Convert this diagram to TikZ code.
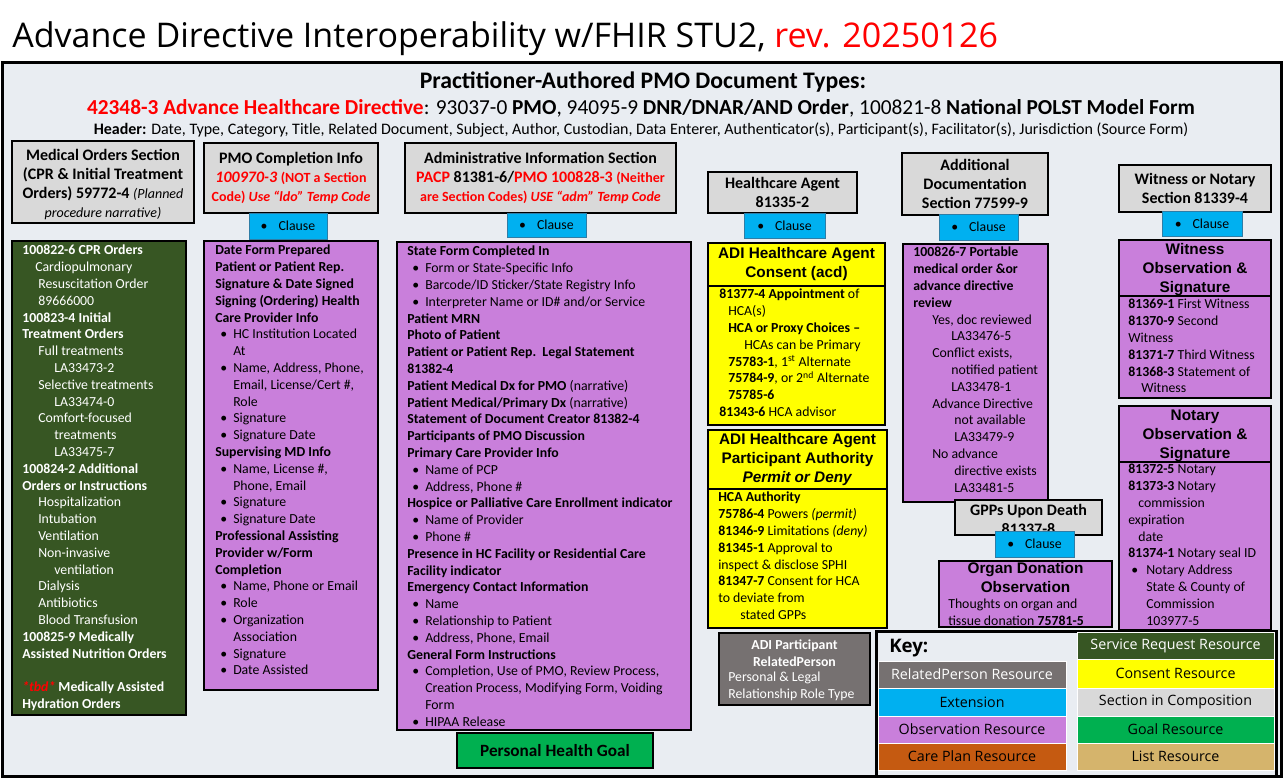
\documentclass[tikz,border=0pt]{standalone}
\usepackage{fontspec}
\setmainfont{Carlito}
\newfontfamily\arialf{Liberation Sans}
\newfontfamily\segoef{Open Sans}
\usetikzlibrary{fit}
\definecolor{panelbg}{HTML}{E9EDF2}
\definecolor{secgray}{HTML}{D9D9D9}
\definecolor{clausecyan}{HTML}{00B0F0}
\definecolor{clauseedge}{HTML}{2E7DA6}
\definecolor{obspurple}{HTML}{C97FDB}
\definecolor{srgreen}{HTML}{375623}
\definecolor{consentyellow}{HTML}{FFFF00}
\definecolor{rpgray}{HTML}{767171}
\definecolor{goalgreen}{HTML}{00B050}
\definecolor{cporange}{HTML}{C55A11}
\definecolor{listtan}{HTML}{D5B46C}
\definecolor{redtxt}{HTML}{FF0000}
\newdimen\pxu \pxu=0.75pt
\newcommand{\ind}[1]{\hspace*{#1\pxu}}
\newcommand{\bu}{\makebox[18\pxu][l]{\hspace*{5\pxu}\textbullet}}
\newcommand{\bi}{\hspace*{18\pxu}}
\newcommand{\bodyfont}{\fontsize{10.35pt}{12.6pt}\selectfont}
\newcommand{\secfont}{\fontsize{12pt}{14.25pt}\selectfont\bfseries}
\newcommand{\smsec}{\fontsize{10.5pt}{14.25pt}\selectfont}
\newcommand{\hdrfont}{\arialf\fontsize{11.5pt}{14.25pt}\selectfont\bfseries}
\newcommand{\rd}[1]{\textcolor{redtxt}{#1}}
\newcommand{\clausetxt}{\textbullet\hspace{11\pxu}Clause}
\tikzset{
  box/.style={draw=black, line width=1.5pt, inner sep=0pt},
  secbox/.style={box, fill=secgray},
  obsbox/.style={box, fill=obspurple},
  conbox/.style={box, fill=consentyellow},
  srbox/.style={box, fill=srgreen},
  rpbox/.style={box, fill=rpgray},
  goalbox/.style={box, fill=goalgreen},
  clausebox/.style={draw=clauseedge, line width=0.75pt, fill=clausecyan, inner sep=0pt},
  body/.style={inner sep=0pt, anchor=north west, align=left, font=\bodyfont},
  sectext/.style={inner sep=0pt, align=center, font=\secfont},
  hdrtext/.style={inner sep=0pt, align=center, font=\hdrfont},
  cltext/.style={inner sep=0pt, font=\bodyfont},
  keycell/.style={draw=white, line width=0.5pt, inner sep=0pt},
  keytext/.style={inner sep=0pt, font={\segoef\fontsize{10.7pt}{12pt}\selectfont}},
}
\begin{document}
\begin{tikzpicture}[x=0.75pt,y=-0.75pt]
\useasboundingbox (0,0) rectangle (1284,779);
\fill[white] (0,0) rectangle (1284,779);
\node[inner sep=0pt, anchor=base west, font={\segoef\fontsize{25.5pt}{28pt}\selectfont}] (title) at (12,47) {Advance Directive Interoperability w/FHIR STU2, \rd{rev. 20250126}};
\node[fit={(2,62)(1281,776)}, draw=black, line width=2.25pt, fill=panelbg, inner sep=0pt] (panel) {};

% header
\node[inner sep=0pt, font={\fontsize{17.8pt}{20pt}\selectfont\bfseries}] (h1) at (643,82) {Practitioner-Authored PMO Document Types:};
\node[inner sep=0pt, font={\fontsize{16pt}{18pt}\selectfont}] (h2) at (641,108) {\rd{\textbf{42348-3 Advance Healthcare Directive}}: 93037-0 \textbf{PMO}, 94095-9 \textbf{DNR/DNAR/AND Order}, 100821-8 \textbf{National POLST Model Form}};
\node[inner sep=0pt, font={\fontsize{12pt}{13pt}\selectfont}] (h3) at (641,130) {\textbf{Header:} Date, Type, Category, Title, Related Document, Subject, Author, Custodian, Data Enterer, Authenticator(s), Participant(s), Facilitator(s), Jurisdiction (Source Form)};

% column 1
\node[secbox, fit={(12,141)(194,223)}] (medsec) {};
\node[sectext] (medsec-t) at (103,184) {Medical Orders Section\\(CPR \& Initial Treatment\\Orders) 59772-4 {\mdseries\itshape\smsec(Planned}\\{\mdseries\itshape\smsec procedure narrative)}};
\node[srbox, fit={(12,241)(186,715)}] (cpr) {};
\node[body, text=white] (cpr-t) at (22,245) {\textbf{100822-6 CPR Orders}\\
\ind{13}Cardiopulmonary\\
\ind{16}Resuscitation Order\\
\ind{16}89666000\\
\textbf{100823-4 Initial}\\
\textbf{Treatment Orders}\\
\ind{16}Full treatments\\
\ind{32}LA33473-2\\
\ind{16}Selective treatments\\
\ind{32}LA33474-0\\
\ind{16}Comfort-focused\\
\ind{32}treatments\\
\ind{32}LA33475-7\\
\textbf{100824-2 Additional}\\
\textbf{Orders or Instructions}\\
\ind{16}Hospitalization\\
\ind{16}Intubation\\
\ind{16}Ventilation\\
\ind{16}Non-invasive\\
\ind{32}ventilation\\
\ind{16}Dialysis\\
\ind{16}Antibiotics\\
\ind{16}Blood Transfusion\\
\textbf{100825-9 Medically}\\
\textbf{Assisted Nutrition Orders}\\
\strut\\
\textbf{\textit{\rd{*tbd*}} Medically Assisted}\\
\textbf{Hydration Orders}};

% column 2
\node[secbox, fit={(204,143)(378,213)}] (pmo) {};
\node[sectext] (pmo-t) at (pmo.center) {PMO Completion Info\\\rd{\textit{100970-3} {\smsec(NOT a Section}}\\{\smsec\rd{Code) \textit{Use “ldo” Temp Code}}}};
\node[obsbox, fit={(204,241)(378,690)}] (pmo-obs) {};
\node[body] (pmo-obs-t) at (215,245) {\textbf{Date Form Prepared}\\
\textbf{Patient or Patient Rep.}\\
\textbf{Signature \& Date Signed}\\
\textbf{Signing (Ordering) Health}\\
\textbf{Care Provider Info}\\
\bu HC Institution Located\\
\bi At\\
\bu Name, Address, Phone,\\
\bi Email, License/Cert \#,\\
\bi Role\\
\bu Signature\\
\bu Signature Date\\
\textbf{Supervising MD Info}\\
\bu Name, License \#,\\
\bi Phone, Email\\
\bu Signature\\
\bu Signature Date\\
\textbf{Professional Assisting}\\
\textbf{Provider w/Form}\\
\textbf{Completion}\\
\bu Name, Phone or Email\\
\bu Role\\
\bu Organization\\
\bi Association\\
\bu Signature\\
\bu Date Assisted};
\node[clausebox, fit={(249,213)(327,239)}] (pmo-cl) {};
\node[cltext] (pmo-cl-t) at (pmo-cl.center) {\clausetxt};

% column 3
\node[secbox, fit={(405,143)(676,213)}] (adm) {};
\node[sectext] (adm-t) at (adm.center) {Administrative Information Section\\\rd{PACP} 81381-6/\rd{PMO 100828-3} {\smsec\rd{(Neither}}\\{\smsec\rd{are Section Codes) \textit{USE “adm” Temp Code}}}};
\node[obsbox, fit={(397,242)(691,730)}] (adm-obs) {};
\node[body] (adm-obs-t) at (407,246) {\textbf{State Form Completed In}\\
\bu Form or State-Specific Info\\
\bu Barcode/ID Sticker/State Registry Info\\
\bu Interpreter Name or ID\# and/or Service\\
\textbf{Patient MRN}\\
\textbf{Photo of Patient}\\
\textbf{Patient or Patient Rep.\ \ Legal Statement}\\
\textbf{81382-4}\\
\textbf{Patient Medical Dx for PMO} (narrative)\\
\textbf{Patient Medical/Primary Dx} (narrative)\\
\textbf{Statement of Document Creator 81382-4}\\
\textbf{Participants of PMO Discussion}\\
\textbf{Primary Care Provider Info}\\
\bu Name of PCP\\
\bu Address, Phone \#\\
\textbf{Hospice or Palliative Care Enrollment indicator}\\
\bu Name of Provider\\
\bu Phone \#\\
\textbf{Presence in HC Facility or Residential Care}\\
\textbf{Facility indicator}\\
\textbf{Emergency Contact Information}\\
\bu Name\\
\bu Relationship to Patient\\
\bu Address, Phone, Email\\
\textbf{General Form Instructions}\\
\bu Completion, Use of PMO, Review Process,\\
\bi Creation Process, Modifying Form, Voiding\\
\bi Form\\
\bu HIPAA Release};
\node[clausebox, fit={(507,213)(586,237)}] (adm-cl) {};
\node[cltext] (adm-cl-t) at (adm-cl.center) {\clausetxt};
\node[goalbox, fit={(457,733)(653,768)}] (phg) {};
\node[inner sep=0pt, font={\fontsize{12.9pt}{14pt}\selectfont\bfseries}] (phg-t) at (phg.center) {Personal Health Goal};

% column 4
\node[secbox, fit={(708,172)(857,213)}] (hca) {};
\node[sectext] (hca-t) at (hca.center) {Healthcare Agent\\81335-2};
\node[conbox, fit={(708,243)(885,286)}] (acd-h) {};
\node[hdrtext] (acd-h-t) at (acd-h.center) {ADI Healthcare Agent\\Consent (acd)};
\node[conbox, fit={(708,286)(885,425)}] (acd-b) {};
\node[body] (acd-b-t) at (719,289) {\textbf{81377-4 Appointment} of\\
\ind{9}HCA(s)\\
\ind{9}\textbf{HCA or Proxy Choices –}\\
\ind{25}HCAs can be Primary\\
\ind{9}\textbf{75783-1}, 1\textsuperscript{st} Alternate\\
\ind{9}\textbf{75784-9}, or 2\textsuperscript{nd} Alternate\\
\ind{9}\textbf{75785-6}\\
\textbf{81343-6} HCA advisor};
\node[clausebox, fit={(744,213)(825,238)}] (hca-cl) {};
\node[cltext] (hca-cl-t) at (hca-cl.center) {\clausetxt};
\node[conbox, fit={(708,430)(887,489)}] (auth-h) {};
\node[hdrtext] (auth-h-t) at (auth-h.center) {ADI Healthcare Agent\\Participant Authority\\\textit{Permit or Deny}};
\node[conbox, fit={(708,489)(887,628)}] (auth-b) {};
\node[body] (auth-b-t) at (718,492) {\textbf{HCA Authority}\\
\textbf{75786-4} Powers \textit{(permit)}\\
\textbf{81346-9} Limitations \textit{(deny)}\\
\textbf{81345-1} Approval to\\
inspect \& disclose SPHI\\
\textbf{81347-7} Consent for HCA\\
to deviate from\\
\ind{22}stated GPPs};
\node[rpbox, fit={(719,633)(870,705)}] (rp) {};
\node[inner sep=0pt, align=center, text=white, font={\bodyfont\bfseries}] (rp-t1) at (794.5,653) {ADI Participant\\RelatedPerson};
\node[body, text=white] (rp-t2) at (728,672) {Personal \& Legal\\Relationship Role Type};

% column 5
\node[secbox, fit={(902,153)(1048,215)}] (adddoc) {};
\node[sectext] (adddoc-t) at (adddoc.center) {Additional\\Documentation\\Section 77599-9};
\node[obsbox, fit={(903,244)(1048,502)}] (review) {};
\node[body] (review-t) at (913,247) {\textbf{100826-7 Portable}\\
\textbf{medical order \&or}\\
\textbf{advance directive}\\
\textbf{review}\\
\ind{19}Yes, doc reviewed\\
\ind{38}LA33476-5\\
\ind{19}Conflict exists,\\
\ind{38}notified patient\\
\ind{38}LA33478-1\\
\ind{19}Advance Directive\\
\ind{41}not available\\
\ind{41}LA33479-9\\
\ind{19}No advance\\
\ind{41}directive exists\\
\ind{41}LA33481-5};
\node[clausebox, fit={(939,214)(1018,240)}] (add-cl) {};
\node[cltext] (add-cl-t) at (add-cl.center) {\clausetxt};
\node[secbox, fit={(955,500)(1102,535)}] (gpp) {};
\node[sectext] (gpp-t) at (1028.5,519) {GPPs Upon Death\\81337-8};
\node[obsbox, line width=1pt, fit={(939,561)(1112,627)}] (organ) {};
\node[hdrtext] (organ-h) at (1025.5,578) {Organ Donation\\Observation};
\node[body] (organ-t) at (948,599) {Thoughts on organ and\\tissue donation \textbf{75781-5}};
\node[clausebox, fit={(995,531)(1074,557)}] (gpp-cl) {};
\node[cltext] (gpp-cl-t) at (gpp-cl.center) {\clausetxt};

% column 6
\node[secbox, fit={(1119,165)(1271,212)}] (wit) {};
\node[sectext] (wit-t) at (wit.center) {Witness or Notary\\Section 81339-4};
\node[obsbox, fit={(1119,240)(1271,296)}] (wit-h) {};
\node[hdrtext] (wit-h-t) at (1195,270) {Witness\\Observation \&\\Signature};
\node[obsbox, fit={(1119,296)(1271,398)}] (wit-b) {};
\node[body] (wit-b-t) at (1128,299) {\textbf{81369-1} First Witness\\
\textbf{81370-9} Second\\
Witness\\
\textbf{81371-7} Third Witness\\
\textbf{81368-3} Statement of\\
\ind{13}Witness};
\node[obsbox, fit={(1119,406)(1271,462)}] (not-h) {};
\node[hdrtext] (not-h-t) at (1195,436) {Notary\\Observation \&\\Signature};
\node[obsbox, fit={(1119,462)(1271,630)}] (not-b) {};
\node[body] (not-b-t) at (1128,464) {\textbf{81372-5} Notary\\
\textbf{81373-3} Notary\\
\ind{10}commission\\
expiration\\
\ind{10}date\\
\textbf{81374-1} Notary seal ID\\
\makebox[18\pxu][l]{\hspace*{3\pxu}\textbullet}Notary Address\\
\bi State \& County of\\
\bi Commission\\
\bi 103977-5};
\node[clausebox, fit={(1162,211)(1242,236)}] (wit-cl) {};
\node[cltext] (wit-cl-t) at (wit-cl.center) {\clausetxt};

% key
\node[fit={(876,631)(1276,776)}, draw=black, line width=2.25pt, inner sep=0pt] (key) {};
\node[inner sep=0pt, anchor=west, font={\segoef\bfseries\fontsize{14pt}{16pt}\selectfont}] (key-t) at (889,648) {Key:};
\node[keycell, fill=srgreen, fit={(1077,632)(1274,659)}] (k-sr) {};
\node[keytext, text=white] (k-sr-t) at (k-sr.center) {Service Request Resource};
\node[keycell, fill=rpgray, fit={(878,661)(1066,688)}] (k-rp) {};
\node[keytext, text=white] (k-rp-t) at (k-rp.center) {RelatedPerson Resource};
\node[keycell, fill=consentyellow, fit={(1077,659)(1274,688)}] (k-con) {};
\node[keytext] (k-con-t) at (k-con.center) {Consent Resource};
\node[keycell, fill=clausecyan, fit={(878,688)(1066,716)}] (k-ext) {};
\node[keytext] (k-ext-t) at (k-ext.center) {Extension};
\node[keycell, fill=secgray, fit={(1077,688)(1274,716)}] (k-sec) {};
\node[keytext] (k-sec-t) at (k-sec.center) {Section in Composition};
\node[keycell, fill=obspurple, fit={(878,716)(1066,743)}] (k-obs) {};
\node[keytext] (k-obs-t) at (k-obs.center) {Observation Resource};
\node[keycell, fill=goalgreen, fit={(1077,716)(1274,743)}] (k-goal) {};
\node[keytext] (k-goal-t) at (k-goal.center) {Goal Resource};
\node[keycell, fill=cporange, fit={(878,743)(1066,770)}] (k-cp) {};
\node[keytext] (k-cp-t) at (k-cp.center) {Care Plan Resource};
\node[keycell, fill=listtan, fit={(1077,743)(1274,770)}] (k-list) {};
\node[keytext] (k-list-t) at (k-list.center) {List Resource};
\end{tikzpicture}
\end{document}
